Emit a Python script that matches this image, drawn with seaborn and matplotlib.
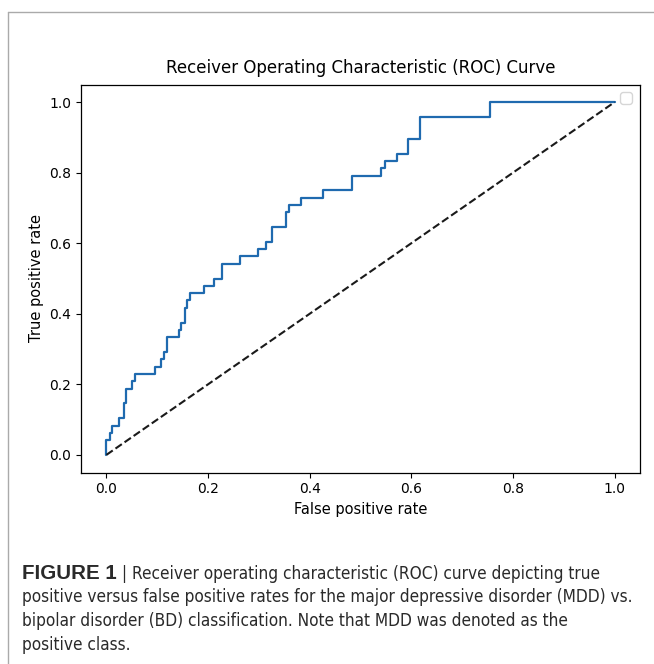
import warnings
import numpy as np
import pandas as pd
import matplotlib
matplotlib.use("Agg")
import matplotlib.pyplot as plt
from matplotlib import font_manager
from matplotlib.lines import Line2D
import seaborn as sns

warnings.filterwarnings("ignore")

# ROC step points (curve rises at each fpr, then runs flat)
fpr = [0.0, 0.0, 0.0065, 0.011, 0.024, 0.035, 0.039, 0.050, 0.057, 0.096,
       0.108, 0.114, 0.119, 0.142, 0.147, 0.154, 0.158, 0.164, 0.193, 0.211,
       0.228, 0.263, 0.299, 0.314, 0.325, 0.354, 0.359, 0.382, 0.426, 0.484,
       0.541, 0.548, 0.571, 0.593, 0.617, 0.754, 1.0]
tpr = [0.0, 0.042, 0.063, 0.083, 0.104, 0.146, 0.188, 0.208, 0.229, 0.250,
       0.271, 0.292, 0.333, 0.354, 0.375, 0.417, 0.438, 0.458, 0.479, 0.500,
       0.542, 0.563, 0.583, 0.604, 0.646, 0.688, 0.708, 0.729, 0.750, 0.792,
       0.813, 0.833, 0.854, 0.896, 0.958, 1.0, 1.0]
chance = [0.0, 1.0]

TITLE = "Receiver Operating Characteristic (ROC) Curve"
CAPTION_BOLD = "FIGURE 1"
CAPTION_LINES = [
    " | Receiver operating characteristic (ROC) curve depicting true",
    "positive versus false positive rates for the major depressive disorder (MDD) vs.",
    "bipolar disorder (BD) classification. Note that MDD was denoted as the",
    "positive class.",
]

sns.set_theme(style="ticks")
plt.rcParams["font.family"] = ["DejaVu Sans"]

W, H = 654, 664
fig = plt.figure(figsize=(W / 100, H / 100), dpi=100)
fig.patch.set_facecolor("white")

# axes box in pixel terms of the page
ax = fig.add_axes([81 / W, 1 - 472.5 / H, 559 / W, 388 / H])
ax.set_facecolor("white")

df = pd.DataFrame({"fpr": fpr, "tpr": tpr})
sns.lineplot(data=df, x="fpr", y="tpr", ax=ax, color="#1f6aaf", linewidth=1.6,
             drawstyle="steps-post", estimator=None, sort=False)
ax.plot(chance, chance, "k--", linewidth=1.5)

ax.set_xlim(-0.05, 1.05)
ax.set_ylim(-0.05, 1.05)
ax.set_xticks(np.arange(0, 1.01, 0.2))
ax.set_yticks(np.arange(0, 1.01, 0.2))
ax.tick_params(labelsize=10, length=3.5, width=0.8, colors="black")
for s in ax.spines.values():
    s.set_color("black")
    s.set_linewidth(0.9)
ax.set_xlabel("False positive rate", fontsize=10.5, color="black", labelpad=4)
ax.set_ylabel("True positive rate", fontsize=10.5, color="black", labelpad=4)
ax.set_title(TITLE, fontsize=12, color="black", pad=8)
ax.legend(handles=[], loc="upper right")

# page border lines
fig.add_artist(Line2D([8 / W, 1], [1 - 12 / H, 1 - 12 / H], color="#aaaaaa", lw=1))
fig.add_artist(Line2D([8 / W, 8 / W], [0, 1 - 12 / H], color="#aaaaaa", lw=1))


# caption font: prefer a narrow face if one is installed
def pick_caption_font():
    for f in font_manager.fontManager.ttflist:
        if f.name == "Liberation Sans Narrow":
            return dict(family="Liberation Sans Narrow")
    for f in font_manager.fontManager.ttflist:
        if f.name == "DejaVu Sans" and f.stretch == "condensed":
            return dict(family="DejaVu Sans", stretch="condensed")
    return dict(family="Liberation Sans")


cap_kw = pick_caption_font()
renderer = fig.canvas.get_renderer()
CAP_COLOR = "#2a2a2a"

# size the caption so the widest line spans the same width as in the page
probe = fig.text(0, 0, CAPTION_LINES[1], fontsize=14, **cap_kw)
wpx = probe.get_window_extent(renderer).width
probe.remove()
cap_size = 14 * 614 / wpx

x0 = 22 / W
baselines = [579, 602.5, 626, 649.5]
bold = fig.text(x0, 1 - baselines[0] / H, CAPTION_BOLD, fontsize=14.8,
                family="Liberation Sans", fontweight="bold", color=CAP_COLOR,
                va="baseline")
bb = bold.get_window_extent(renderer)
fig.text(bb.x1 / W, 1 - baselines[0] / H, CAPTION_LINES[0], fontsize=cap_size,
         color=CAP_COLOR, va="baseline", **cap_kw)
for line, yb in zip(CAPTION_LINES[1:], baselines[1:]):
    fig.text(x0, 1 - yb / H, line, fontsize=cap_size, color=CAP_COLOR,
             va="baseline", **cap_kw)

plt.savefig("out.png", dpi=100)
plt.close()
